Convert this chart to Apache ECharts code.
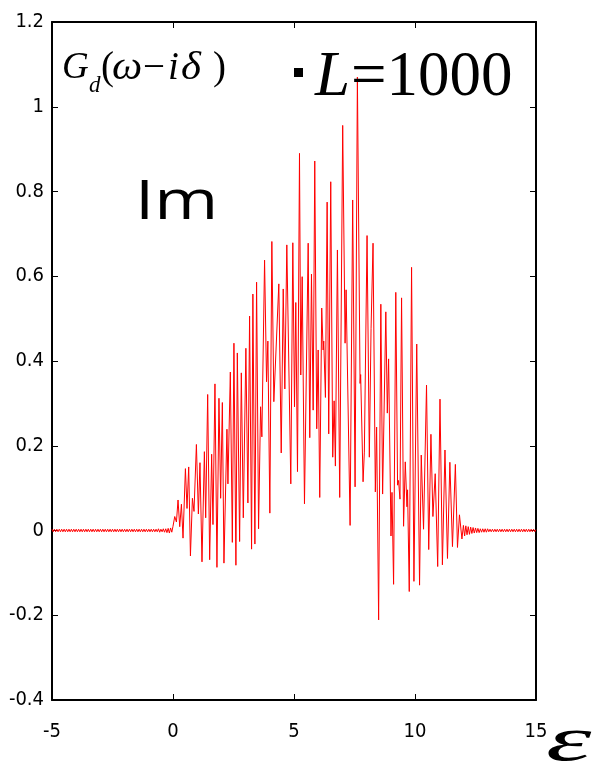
<!DOCTYPE html>
<html><head><meta charset="utf-8">
<script src="https://cdn.jsdelivr.net/npm/echarts@6/dist/echarts.min.js"></script>
<style>html,body{margin:0;padding:0;background:#fff}#c{width:600px;height:764px}</style>
</head><body><div id="c"></div><script>
// tick values
const xTicks = [-5, 0, 5, 10, 15];
const yTicks = [-0.4, -0.2, 0, 0.2, 0.4, 0.6, 0.8, 1.0, 1.2];

// baseline ripple before the band (epsilon -5 .. -0.05, sampled every 0.05)
const leftStart = -5, leftStep = 0.05;
const leftRipple = [
 0.003,-0.003,0.003,-0.003,0.003,-0.003,0.003,-0.003,0.003,-0.003,
 0.003,-0.003,0.003,-0.003,0.003,-0.003,0.003,-0.003,0.003,-0.003,
 0.003,-0.003,0.003,-0.003,0.003,-0.003,0.003,-0.003,0.003,-0.003,
 0.003,-0.003,0.003,-0.003,0.003,-0.003,0.003,-0.003,0.003,-0.003,
 0.003,-0.003,0.003,-0.003,0.003,-0.003,0.003,-0.003,0.003,-0.003,
 0.003,-0.003,0.003,-0.003,0.003,-0.003,0.003,-0.003,0.003,-0.003,
 0.003,-0.003,0.003,-0.003,0.003,-0.003,0.003,-0.003,0.003,-0.003,
 0.003,-0.003,0.003,-0.003,0.003,-0.003,0.003,-0.003,0.003,-0.003,
 0.003,-0.003,0.003,-0.003,0.003,-0.003,0.003,-0.003,0.004,-0.004,
 0.003,-0.003,0.004,-0.004,0.004,-0.005,0.005,-0.006,0.006,-0.004
];

// main band: [epsilon, Im G_d]
const bandPoints = [
 [0.000,0.010],[0.072,0.033],[0.142,0.020],[0.208,0.072],[0.278,0.009],[0.348,0.062],[0.414,-0.018],[0.513,0.146],[0.579,0.052],[0.649,0.150],
 [0.720,-0.060],[0.802,0.076],[0.868,0.045],[0.967,0.203],[1.049,0.039],[1.115,0.160],[1.198,-0.074],[1.297,0.186],[1.351,0.030],[1.433,0.321],
 [1.515,-0.069],[1.598,0.180],[1.652,0.014],[1.734,0.346],[1.816,-0.087],[1.899,0.312],[1.969,0.076],[2.039,0.302],[2.105,-0.077],[2.229,0.239],
 [2.270,0.110],[2.369,0.374],[2.452,-0.028],[2.518,0.442],[2.600,-0.082],[2.658,0.419],[2.753,-0.026],[2.823,0.372],[2.905,0.030],[3.012,0.430],
 [3.095,0.065],[3.165,0.506],[3.247,-0.044],[3.301,0.558],[3.384,-0.032],[3.454,0.586],[3.536,0.004],[3.619,0.292],[3.672,0.221],[3.784,0.638],
 [3.866,0.351],[3.920,0.447],[4.002,0.041],[4.085,0.682],[4.167,0.304],[4.373,0.582],[4.472,0.183],[4.555,0.570],[4.621,0.334],[4.703,0.674],
 [4.868,0.110],[4.951,0.679],[5.021,0.292],[5.074,0.538],[5.144,0.139],[5.227,0.890],[5.280,0.367],[5.338,0.599],[5.433,0.063],[5.586,0.678],
 [5.652,0.219],[5.722,0.605],[5.792,0.284],[5.858,0.872],[5.940,0.240],[5.998,0.426],[6.064,0.078],[6.146,0.525],[6.204,0.426],[6.229,0.447],
 [6.299,0.314],[6.369,0.775],[6.435,0.228],[6.518,0.823],[6.600,0.173],[6.658,0.306],[6.711,0.152],[6.794,0.662],[6.889,0.078],[7.012,0.956],
 [7.111,0.442],[7.153,0.568],[7.318,0.012],[7.425,0.780],[7.524,0.103],[7.619,1.070],[7.730,0.347],[7.755,0.368],[7.854,0.115],[7.907,0.185],
 [8.019,0.696],[8.113,0.173],[8.184,0.476],[8.266,0.678],[8.361,0.091],[8.414,0.244],[8.497,-0.211],[8.588,0.534],[8.662,0.086],[8.794,0.516],
 [8.856,0.277],[8.909,0.405],[9.008,-0.013],[9.049,0.090],[9.115,-0.127],[9.206,0.562],[9.280,0.107],[9.320,0.118],[9.379,0.074],[9.445,0.549],
 [9.528,0.010],[9.598,0.162],[9.668,0.056],[9.693,0.096],[9.763,-0.144],[9.858,0.621],[9.956,-0.120],[10.072,0.440],[10.188,-0.129],[10.258,0.178],
 [10.353,0.003],[10.476,0.343],[10.567,-0.045],[10.658,0.227],[10.740,0.033],[10.835,0.134],[10.938,-0.085],[11.033,0.310],[11.132,-0.081],[11.239,0.190],
 [11.342,-0.066],[11.441,0.161],[11.548,-0.038],[11.668,0.156],[11.755,-0.040],[11.837,0.037],[11.887,0.035],[11.940,-0.020]
];

// decaying ripple after the band (epsilon 12.0 .. 15.0, sampled every 0.05)
const rightStart = 12.0, rightStep = 0.05;
const rightRipple = [
 0.012,-0.013,0.011,-0.010,0.009,-0.009,0.008,-0.007,0.007,-0.006,
 0.006,-0.005,0.005,-0.005,0.004,-0.004,0.004,-0.004,0.004,-0.004,
 0.004,-0.003,0.003,-0.003,0.003,-0.003,0.003,-0.003,0.003,-0.003,
 0.003,-0.003,0.003,-0.003,0.003,-0.003,0.003,-0.003,0.003,-0.003,
 0.003,-0.003,0.003,-0.003,0.003,-0.003,0.003,-0.003,0.003,-0.003,
 0.003,-0.003,0.003,-0.003,0.003,-0.003,0.003,-0.003,0.003,-0.003,
 0.002
];

const seriesData = [];
leftRipple.forEach((v, i) => seriesData.push([+(leftStart + i * leftStep).toFixed(3), v]));
bandPoints.forEach(p => seriesData.push(p));
rightRipple.forEach((v, i) => seriesData.push([+(rightStart + i * rightStep).toFixed(3), v]));

const labelFont = "'Liberation Sans Narrow','DejaVu Sans Condensed','Liberation Sans',sans-serif";
const serif = "'Liberation Serif','DejaVu Serif',serif";
const axisLineStyle = { color: '#000', width: 2 };
const tickStyle = { show: true, inside: true, length: 6, lineStyle: { color: '#000', width: 1 } };

function xAx(pos, showLabel) {
  return {
    type: 'value', position: pos, min: xTicks[0], max: xTicks[xTicks.length - 1],
    interval: xTicks[1] - xTicks[0],
    axisLine: { show: true, onZero: false, lineStyle: axisLineStyle },
    axisTick: tickStyle,
    axisLabel: { show: showLabel, color: '#000', fontSize: 20, fontFamily: labelFont, margin: 22 },
    splitLine: { show: false }
  };
}
function yAx(pos, showLabel) {
  return {
    type: 'value', position: pos, min: yTicks[0], max: yTicks[yTicks.length - 1],
    interval: 0.2,
    axisLine: { show: true, onZero: false, lineStyle: axisLineStyle },
    axisTick: tickStyle,
    axisLabel: { show: showLabel, color: '#000', fontSize: 20, fontFamily: labelFont, margin: 8,
      formatter: v => String(Math.round(v * 10) / 10) },
    splitLine: { show: false }
  };
}

function txt(x, y, text, font, extra) {
  return Object.assign({ type: 'text', x: x, y: y, z: 100,
    style: { text: text, font: font, fill: '#000', textAlign: 'left', textVerticalAlign: 'top' } }, extra || {});
}

const chart = echarts.init(document.getElementById('c'), null, { renderer: 'canvas' });
chart.setOption({
  animation: false,
  backgroundColor: '#fff',
  grid: { left: 52, right: 64, top: 22, bottom: 64, containLabel: false },
  xAxis: [xAx('bottom', true), xAx('top', false)],
  yAxis: [yAx('left', true), yAx('right', false)],
  series: [{
    type: 'line', xAxisIndex: 0, yAxisIndex: 0, data: seriesData,
    showSymbol: false, symbol: 'none', clip: true,
    lineStyle: { color: '#ff0000', width: 1 }
  }],
  graphic: [
    txt(62, 50, 'G', 'italic 37px ' + serif),
    txt(89, 74, 'd', 'italic 23px ' + serif),
    txt(101, 49, '(', '39px ' + serif),
    txt(112, 49, 'ω', 'italic 39px ' + serif, { scaleX: 1.1 }),
    txt(143, 49, '−', '39px ' + serif),
    txt(168, 49, 'i', 'italic 39px ' + serif),
    txt(181, 49, 'δ', 'italic 39px ' + serif, { scaleX: 1.1 }),
    txt(213, 49, ')', '39px ' + serif),
    { type: 'rect', z: 100, shape: { x: 294, y: 68, width: 9, height: 9 }, style: { fill: '#000' } },
    txt(315, 47, 'L', 'italic 63px ' + serif),
    txt(351, 47, '=1000', '63px ' + serif),
    txt(135, 177, 'Im', '54px "Open Sans", sans-serif', { scaleX: 1.28 }),
    txt(546, 711, 'ε', 'italic 64px ' + serif, { scaleX: 1.8 })
  ]
});
</script></body></html>
